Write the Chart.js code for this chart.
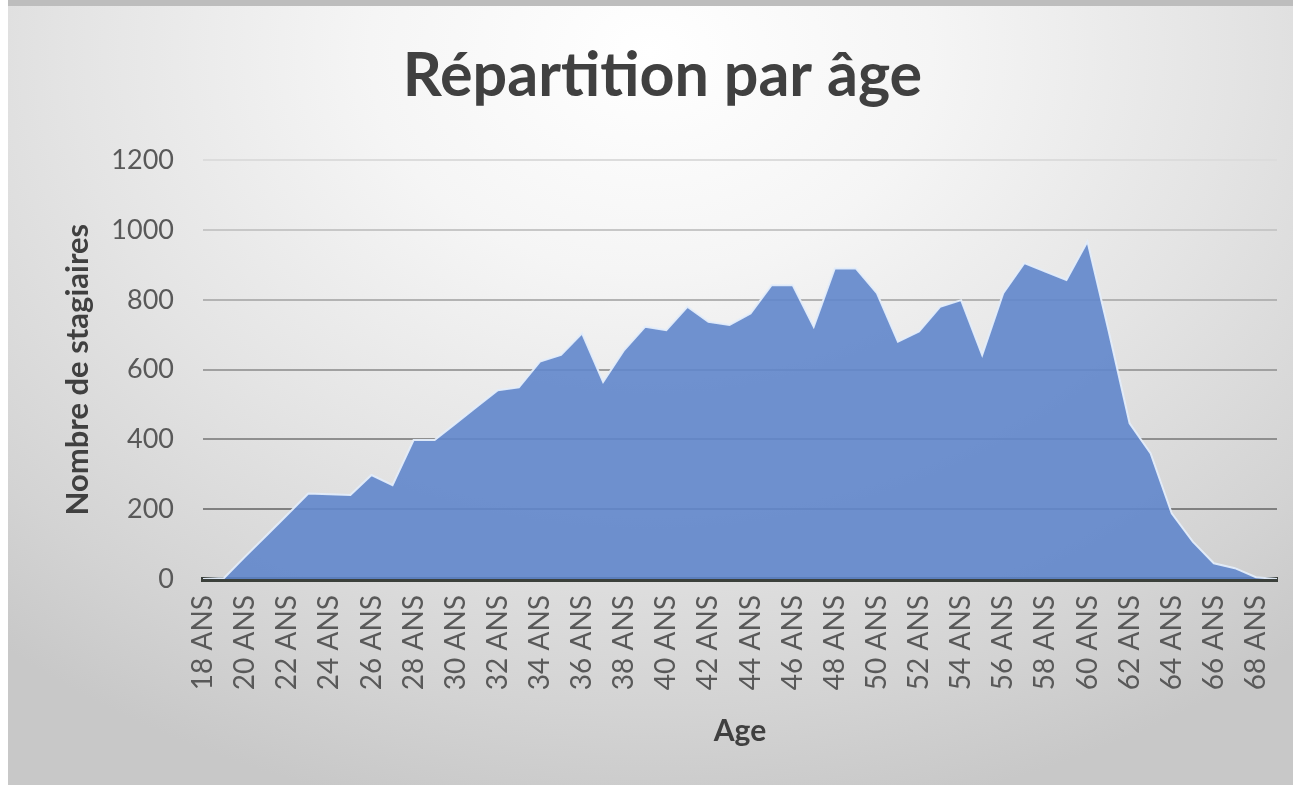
<!DOCTYPE html>
<html lang="fr">
<head>
<meta charset="utf-8">
<title>Répartition par âge</title>
<script src="https://cdn.jsdelivr.net/npm/chart.js@4.4.1/dist/chart.umd.min.js"></script>
<style>
    html, body { margin: 0; padding: 0; background: #ffffff; }
    body { width: 1301px; height: 789px; position: relative; overflow: hidden; }
    .chart-card {
        position: absolute;
        left: 8px;
        top: 0;
        width: 1285px;
        height: 779px;
        border-top: 6px solid #bdbdbd;
        background: radial-gradient(ellipse 78% 100% at 50% 6%, #ffffff 0%, #f5f5f5 28%, #e4e4e4 58%, #d3d3d3 85%, #c8c8c8 100%);
    }
    .chart-card canvas { display: block; }
</style>
</head>
<body>
<div class="chart-card">
    <canvas id="ageChart" width="1285" height="779"></canvas>
</div>
<script>
// Chart data
const ageLabels = [
    '18 ANS', '19 ANS', '20 ANS', '21 ANS', '22 ANS', '23 ANS', '24 ANS', '25 ANS',
    '26 ANS', '27 ANS', '28 ANS', '29 ANS', '30 ANS', '31 ANS', '32 ANS', '33 ANS',
    '34 ANS', '35 ANS', '36 ANS', '37 ANS', '38 ANS', '39 ANS', '40 ANS', '41 ANS',
    '42 ANS', '43 ANS', '44 ANS', '45 ANS', '46 ANS', '47 ANS', '48 ANS', '49 ANS',
    '50 ANS', '51 ANS', '52 ANS', '53 ANS', '54 ANS', '55 ANS', '56 ANS', '57 ANS',
    '58 ANS', '59 ANS', '60 ANS', '61 ANS', '62 ANS', '63 ANS', '64 ANS', '65 ANS',
    '66 ANS', '67 ANS', '68 ANS', '69 ANS'
];

const stagiaires = [
    0, 3, 64, 124, 184, 245, 243, 241,
    298, 269, 398, 398, 446, 494, 541, 549,
    623, 642, 704, 565, 656, 723, 713, 780,
    737, 728, 761, 842, 842, 723, 890, 890,
    819, 680, 709, 780, 799, 642, 819, 905,
    881, 857, 967, 712, 446, 360, 188, 107,
    45, 31, 5, 0
];

const yTicks = [0, 200, 400, 600, 800, 1000, 1200];

const chartTitle = 'Répartition par âge';
const xTitle = 'Age';
const yTitle = 'Nombre de stagiaires';

// gridlines get lighter towards the top, like the original
function gridColor(ctx) {
    const v = ctx.tick ? ctx.tick.value : 0;
    const shades = {
        0: '#3b403b', 200: '#808080', 400: '#8f8f8f', 600: '#a0a0a0',
        800: '#b3b3b3', 1000: '#c7c7c7', 1200: '#dcdcdc'
    };
    return shades[v] || '#bbbbbb';
}

const ctx = document.getElementById('ageChart');

new Chart(ctx, {
    type: 'line',
    data: {
        labels: ageLabels,
        datasets: [{
            label: yTitle,
            data: stagiaires,
            fill: 'origin',
            backgroundColor: 'rgba(96, 134, 203, 0.9)',
            borderColor: 'rgba(228, 237, 250, 0.95)',
            borderWidth: 2,
            pointRadius: 0,
            pointHoverRadius: 0,
            tension: 0
        }]
    },
    options: {
        responsive: false,
        animation: false,
        layout: {
            // left padding pushes the title a bit right of centre, like the original
            padding: { left: 40, right: 16, top: 0, bottom: 0 }
        },
        plugins: {
            legend: { display: false },
            tooltip: { enabled: false },
            title: {
                display: true,
                text: chartTitle,
                color: '#404040',
                font: { family: 'Lato', size: 61, weight: 'bold', lineHeight: 1.2 },
                padding: { top: 34, bottom: 47 }
            }
        },
        scales: {
            x: {
                offset: false,
                z: 1,
                grid: { display: false, drawTicks: false },
                border: { display: true, color: '#3b403b', width: 5 },
                ticks: {
                    autoSkip: false,
                    maxRotation: 90,
                    minRotation: 90,
                    padding: 16,
                    color: '#595959',
                    font: { family: 'Lato', size: 28 },
                    callback: function (val, idx) {
                        return idx % 2 === 0 ? ageLabels[idx] : '';
                    }
                },
                title: {
                    display: true,
                    text: xTitle,
                    color: '#404040',
                    font: { family: 'Lato', size: 30, weight: 'bold', lineHeight: 1.2 },
                    padding: { top: 0, bottom: 36 }
                },
                afterFit: function (scale) {
                    scale.height = 206;
                    scale.paddingLeft = 0;
                    scale.paddingRight = 0;
                }
            },
            y: {
                min: 0,
                max: 1200,
                afterBuildTicks: function (scale) {
                    scale.ticks = yTicks.map(v => ({ value: v }));
                },
                grid: {
                    drawTicks: false,
                    color: gridColor,
                    lineWidth: 2
                },
                border: { display: false },
                ticks: {
                    padding: 29,
                    color: '#595959',
                    font: { family: 'Lato', size: 27 },
                    callback: function (val) {
                        return String(val);
                    }
                },
                title: {
                    display: true,
                    text: yTitle,
                    color: '#404040',
                    font: { family: 'Lato', size: 31, weight: 'bold', lineHeight: 1.2 },
                    padding: { top: 11, bottom: 0 }
                },
                afterFit: function (scale) {
                    scale.width = 155;
                    scale.paddingTop = 0;
                    scale.paddingBottom = 0;
                }
            }
        }
    }
});
</script>
</body>
</html>
